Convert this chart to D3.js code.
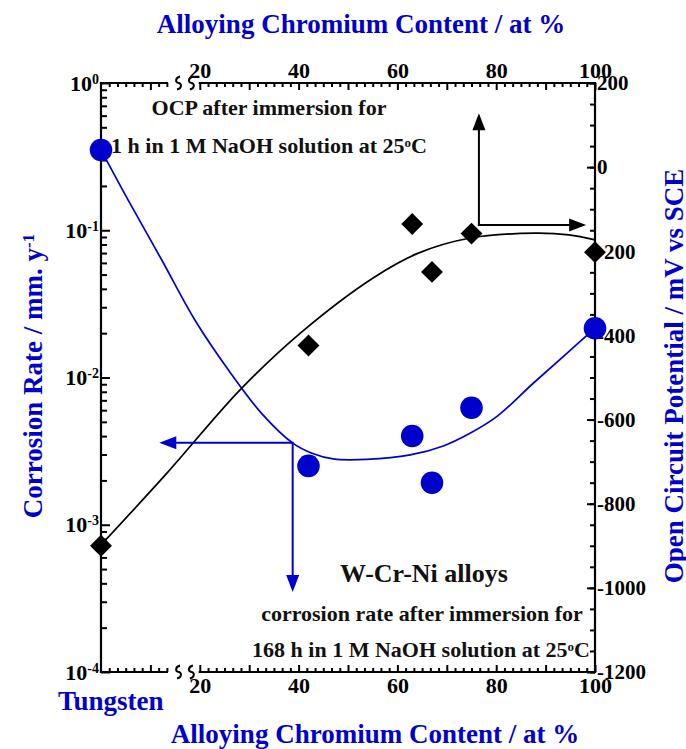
<!DOCTYPE html>
<html><head><meta charset="utf-8">
<script src="https://cdn.jsdelivr.net/npm/d3@7"></script>
<style>
html,body{margin:0;padding:0;background:#fff;}
svg{display:block;}
svg text{font-family:"Liberation Serif","Times New Roman","DejaVu Serif",serif !important;font-weight:bold;}
</style>
</head><body>
<svg id="chart" width="686" height="749"></svg>
<script>
// ---------------- data ----------------
const crContent      = [0, 42, 63, 67, 75, 100];                      // at % Cr
const corrosionRate  = [0.351, 0.00251, 0.00401, 0.00193, 0.00623, 0.0216]; // mm/y
const ocpValues      = [-900, -424, -135, -249, -158, -202];          // mV vs SCE

const rateFitCr      = [0, 5.5, 12.3, 19, 25.8, 32.5, 38.9, 42.7, 47, 53.8, 62.6, 69.3, 74.7, 80.1, 87.5, 94.3, 100];
const rateFitValues  = [0.351, 0.16, 0.0628, 0.0246, 0.01124, 0.00571, 0.00357, 0.00306, 0.00280, 0.00278, 0.00298, 0.00343, 0.00418, 0.00542, 0.00914, 0.01459, 0.0216];

const ocpFitCr       = [0, 13.3, 28.1, 40.3, 55, 64.1, 74.5, 87.8, 94.7, 100];
const ocpFitValues   = [-898, -728, -530, -395, -264, -205, -169, -157, -161, -173];

const crTickLabels   = [20, 40, 60, 80, 100];
const crMajorTicks   = [10, 20, 30, 40, 50, 60, 70, 80, 90, 100];
const rateExponents  = [0, -1, -2, -3, -4];
const ocpTickLabels  = [200, 0, -200, -400, -600, -800, -1000, -1200];
const axisBreak      = [13.33, 20];     // gap in the Cr axis
const breakMarks     = [15.7, 18.3];    // "≀ ≀" symbols

// annotation arrows (data coordinates)
const ocpArrowCorner  = [76.5, -137.5];
const ocpArrowUpTip   = 128;
const ocpArrowRightTip= 98.2;
const rateArrowCorner = [38.8, 0.0036];
const rateArrowLeftTip= 11.8;
const rateArrowDownTip= 0.00035;

// ---------------- drawing ----------------
const M = {left:101, right:595, top:83, bottom:672};
const BLUE = "#0000cc";
const svg = d3.select("#chart");

const x  = d3.scaleLinear().domain([0,100]).range([M.left, M.right]);
const yL = d3.scaleLog().domain([1e-4,1]).range([M.bottom, M.top]);
const yR = d3.scaleLinear().domain([-1200,200]).range([M.bottom, M.top]);

// minor tick positions on the Cr axis (5 minor ticks per 10 %)
const step = 10/6;
const crMinor = d3.range(0, 9).map(k => k*step)
  .concat(d3.range(0, 49).map(k => 20 + k*step))
  .filter(v => Math.abs(v/10 - Math.round(v/10)) > 1e-6);

function styleAxis(g, size) {
  g.select(".domain").remove();
  g.selectAll(".tick line").attr("stroke", "#000").attr("stroke-width", 2);
  g.selectAll(".tick text").attr("fill", "#000").attr("font-size", size);
}

// top & bottom axes
[[d3.axisTop, M.top], [d3.axisBottom, M.bottom]].forEach(([gen, yy]) => {
  const g1 = svg.append("g").attr("transform", `translate(0,${yy})`)
    .call(gen(x).tickValues(crMinor).tickSize(-4).tickFormat(""));
  styleAxis(g1, 22);
  g1.selectAll(".tick text").remove();
  const g2 = svg.append("g").attr("transform", `translate(0,${yy})`)
    .call(gen(x).tickValues(crMajorTicks).tickSize(-7).tickPadding(5)
      .tickFormat(d => crTickLabels.includes(d) ? d : ""));
  styleAxis(g2, 22);
  g2.selectAll(".tick text").filter(d => !crTickLabels.includes(d)).remove();
});

// left log axis
const decades = rateExponents.map(e => Math.pow(10, e));
const gL1 = svg.append("g").attr("transform", `translate(${M.left},0)`)
  .call(d3.axisLeft(yL).tickValues(yL.ticks().filter(v => !decades.some(p => Math.abs(v/p - 1) < 1e-6)))
    .tickSize(-6).tickFormat(""));
styleAxis(gL1, 22);
gL1.selectAll(".tick text").remove();
const gL2 = svg.append("g").attr("transform", `translate(${M.left},0)`)
  .call(d3.axisLeft(yL).tickValues(decades).tickSize(-9).tickPadding(2).tickFormat(""));
styleAxis(gL2, 22);
gL2.selectAll(".tick text").each(function(d) {
  const t = d3.select(this);
  t.append("tspan").text("10");
  t.append("tspan").attr("dy", "-0.5em").attr("font-size", 14).text(String(Math.round(Math.log10(d))));
});

// right axis
const gR1 = svg.append("g").attr("transform", `translate(${M.right},0)`)
  .call(d3.axisRight(yR).tickValues(d3.range(-1200, 201, 50)).tickSize(-5).tickFormat(""));
styleAxis(gR1, 21);
gR1.selectAll(".tick text").remove();
const gR2 = svg.append("g").attr("transform", `translate(${M.right},0)`)
  .call(d3.axisRight(yR).tickValues(ocpTickLabels).tickSize(-8).tickPadding(2).tickFormat(d => String(d)));
styleAxis(gR2, 21);

// frame
const frame = svg.append("g").attr("stroke", "#000").attr("stroke-width", 2.2).attr("stroke-linecap", "square");
frame.append("line").attr("x1", M.left).attr("x2", M.left).attr("y1", M.top).attr("y2", M.bottom);
frame.append("line").attr("x1", M.right).attr("x2", M.right).attr("y1", M.top).attr("y2", M.bottom);
[M.top, M.bottom].forEach(yy => {
  frame.append("line").attr("x1", x(0)).attr("x2", x(axisBreak[0])).attr("y1", yy).attr("y2", yy);
  frame.append("line").attr("x1", x(axisBreak[1])).attr("x2", x(100)).attr("y1", yy).attr("y2", yy);
  breakMarks.forEach(b => {
    const cx = x(b), cy = yy;
    svg.append("path")
      .attr("d", `M${cx+1.5},${cy-6.5} C${cx-4},${cy-5} ${cx-3},${cy} ${cx},${cy} S${cx+4},${cy+5} ${cx-1.5},${cy+6.5}`)
      .attr("fill", "none").attr("stroke", "#000").attr("stroke-width", 2);
  });
});

// fitted curves
const rateFit = rateFitCr.map((c, i) => [c, rateFitValues[i]]);
const ocpFit  = ocpFitCr.map((c, i) => [c, ocpFitValues[i]]);
svg.append("path").datum(rateFit)
  .attr("d", d3.line().x(d => x(d[0])).y(d => yL(d[1])).curve(d3.curveCatmullRom.alpha(0.5)))
  .attr("fill", "none").attr("stroke", BLUE).attr("stroke-width", 1.7);
svg.append("path").datum(ocpFit)
  .attr("d", d3.line().x(d => x(d[0])).y(d => yR(d[1])).curve(d3.curveCatmullRom.alpha(0.5)))
  .attr("fill", "none").attr("stroke", "#000").attr("stroke-width", 1.7);

// arrows
function arrow(x1, y1, x2, y2, color) {
  const L = 17, hw = 6.5;
  const dx = x2 - x1, dy = y2 - y1, len = Math.hypot(dx, dy);
  const ux = dx/len, uy = dy/len;
  const bx = x2 - ux*L, by = y2 - uy*L;
  svg.append("line").attr("x1", x1).attr("y1", y1).attr("x2", bx + ux*2).attr("y2", by + uy*2)
    .attr("stroke", color).attr("stroke-width", 2);
  svg.append("path")
    .attr("d", `M${x2},${y2} L${bx - uy*hw},${by + ux*hw} L${bx + uy*hw},${by - ux*hw} Z`)
    .attr("fill", color);
}
const oc = [x(ocpArrowCorner[0]), yR(ocpArrowCorner[1])];
arrow(oc[0], oc[1], oc[0], yR(ocpArrowUpTip), "#000");
arrow(oc[0] - 1, oc[1], x(ocpArrowRightTip), oc[1], "#000");
const rc = [x(rateArrowCorner[0]), yL(rateArrowCorner[1])];
arrow(rc[0], rc[1], x(rateArrowLeftTip), rc[1], BLUE);
arrow(rc[0], rc[1] - 1, rc[0], yL(rateArrowDownTip), BLUE);

// markers
const pts = crContent.map((c, i) => ({c, r: corrosionRate[i], o: ocpValues[i]}));
svg.append("g").selectAll("path").data(pts).join("path")
  .attr("d", d3.symbol(d3.symbolSquare, 240)())
  .attr("transform", d => `translate(${x(d.c)},${yR(d.o)}) rotate(45)`)
  .attr("fill", "#000");
svg.append("g").selectAll("circle").data(pts).join("circle")
  .attr("cx", d => x(d.c)).attr("cy", d => yL(d.r)).attr("r", 11.3)
  .attr("fill", BLUE);

// text helpers: parts are strings or {s: "superscript"}
function addParts(t, parts, supSize) {
  let afterSup = false;
  parts.forEach(p => {
    if (typeof p === "object") {
      t.append("tspan").attr("dy", "-0.45em").attr("font-size", supSize).text(p.s);
      afterSup = true;
    } else {
      const sp = t.append("tspan").text(p);
      if (afterSup) sp.attr("dy", (0.45*supSize) + "px");
      afterSup = false;
    }
  });
}
function note(tx, ty, size, parts) {
  const t = svg.append("text").attr("x", tx).attr("y", ty).attr("font-size", size)
    .attr("fill", "#111").attr("text-anchor", "middle");
  addParts(t, parts, Math.round(size*0.6));
}
note(269, 115, 22, ["OCP after immersion for"]);
note(269, 153, 22, ["1 h in 1 M NaOH solution at 25", {s: "o"}, "C"]);
note(424, 582, 26, ["W-Cr-Ni alloys"]);
note(422, 621, 22, ["corrosion rate after immersion for"]);
note(421, 657, 22, ["168 h in 1 M NaOH solution at 25", {s: "o"}, "C"]);

function title(tx, ty, rot, parts, anchor) {
  const t = svg.append("text").attr("transform", `translate(${tx},${ty}) rotate(${rot})`)
    .attr("font-size", 27).attr("fill", BLUE)
    .attr("text-anchor", anchor || "middle");
  addParts(t, parts, 17);
}
title(361, 33, 0, ["Alloying Chromium Content / at %"]);
title(375, 743, 0, ["Alloying Chromium Content / at %"]);
title(58, 710, 0, ["Tungsten"], "start");
title(42, 376, -90, ["Corrosion Rate / mm. y", {s: "-1"}]);
title(683, 376, -90, ["Open Circuit Potential / mV vs SCE"]);
</script>
</body></html>
